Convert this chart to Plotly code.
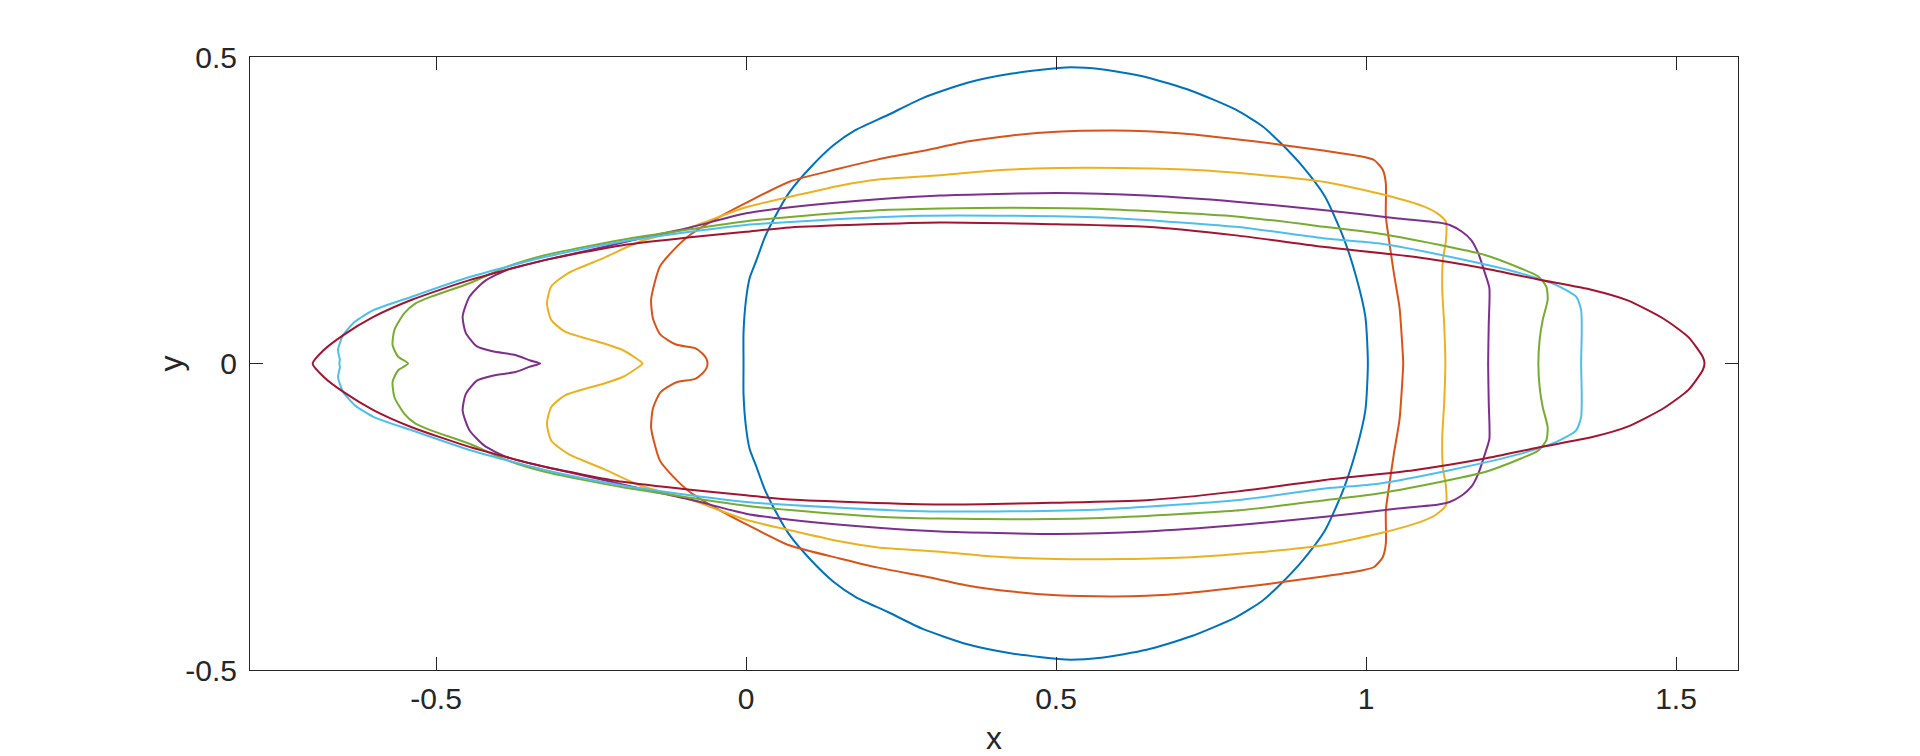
import plotly.graph_objects as go

# upper halves of each closed contour, from the left tip (y=0) round to the right tip (y=0)
blue_x = [-0.004, -0.004, 0.000, 0.006, 0.017, 0.030, 0.044, 0.069, 0.105, 0.141, 0.177, 0.228, 0.285, 0.357,
          0.429, 0.516, 0.573, 0.646, 0.718, 0.790, 0.833, 0.862, 0.898, 0.934, 0.963, 0.984, 0.999, 1.003]
blue_y = [0.000, 0.050, 0.104, 0.140, 0.169, 0.205, 0.234, 0.278, 0.321, 0.356, 0.381, 0.405, 0.433, 0.458,
          0.473, 0.483, 0.480, 0.467, 0.445, 0.414, 0.387, 0.360, 0.321, 0.272, 0.207, 0.142, 0.076, 0.000]

orange_x = [-0.062, -0.064, -0.070, -0.082, -0.113, -0.138, -0.150, -0.153, -0.139, -0.117, -0.090, -0.050,
            0.000, 0.071, 0.151, 0.213, 0.291, 0.357, 0.429, 0.501, 0.588, 0.646, 0.718, 0.790, 0.862, 0.934,
            0.991, 1.013, 1.027, 1.032, 1.032, 1.037, 1.045, 1.054, 1.058, 1.060]
orange_y = [0.000, 0.008, 0.016, 0.025, 0.031, 0.047, 0.073, 0.105, 0.158, 0.185, 0.210, 0.235,
            0.262, 0.297, 0.318, 0.333, 0.348, 0.362, 0.372, 0.378, 0.380, 0.379, 0.374, 0.366, 0.357, 0.347,
            0.338, 0.332, 0.316, 0.294, 0.240, 0.202, 0.147, 0.092, 0.038, 0.000]

yellow_x = [-0.167, -0.181, -0.199, -0.230, -0.292, -0.314, -0.321, -0.314, -0.286, -0.230, -0.171, -0.090,
            0.000, 0.071, 0.151, 0.213, 0.313, 0.400, 0.501, 0.609, 0.718, 0.826, 0.934, 1.031, 1.094, 1.115,
            1.129, 1.129, 1.124, 1.123, 1.126, 1.128]
yellow_y = [0.000, 0.011, 0.022, 0.033, 0.052, 0.071, 0.098, 0.126, 0.148, 0.172, 0.199, 0.222,
            0.255, 0.272, 0.290, 0.300, 0.307, 0.315, 0.319, 0.319, 0.316, 0.308, 0.296, 0.275, 0.256, 0.245,
            0.231, 0.201, 0.169, 0.120, 0.066, 0.000]

purple_x = [-0.332, -0.348, -0.372, -0.409, -0.434, -0.452, -0.457, -0.446, -0.422, -0.385, -0.323, -0.230,
            -0.171, -0.090, 0.000, 0.071, 0.213, 0.313, 0.501, 0.646, 0.790, 0.934, 1.048, 1.117, 1.135, 1.155,
            1.170, 1.181, 1.192, 1.199, 1.198, 1.197]
purple_y = [0.000, 0.005, 0.014, 0.020, 0.028, 0.050, 0.077, 0.109, 0.134, 0.153, 0.169, 0.190,
            0.204, 0.222, 0.245, 0.255, 0.268, 0.274, 0.278, 0.274, 0.264, 0.250, 0.237, 0.230, 0.226, 0.215,
            0.201, 0.180, 0.147, 0.123, 0.065, 0.000]

green_x = [-0.545, -0.561, -0.570, -0.567, -0.551, -0.533, -0.508, -0.446, -0.385, -0.323, -0.199, -0.090,
           0.000, 0.071, 0.213, 0.313, 0.429, 0.573, 0.790, 0.934, 1.020, 1.135, 1.192, 1.250, 1.278, 1.291,
           1.293, 1.285, 1.280, 1.278]
green_y = [0.000, 0.011, 0.030, 0.055, 0.082, 0.098, 0.109, 0.131, 0.158, 0.177, 0.202, 0.219,
           0.232, 0.239, 0.250, 0.253, 0.254, 0.252, 0.240, 0.223, 0.212, 0.190, 0.177, 0.155, 0.142, 0.125,
           0.104, 0.071, 0.038, 0.000]

cyan_x = [-0.656, -0.655, -0.658, -0.650, -0.631, -0.601, -0.539, -0.446, -0.323, -0.199, -0.090, 0.000,
          0.071, 0.285, 0.429, 0.573, 0.790, 0.934, 1.020, 1.135, 1.250, 1.307, 1.339, 1.347, 1.348, 1.347]
cyan_y = [0.000, 0.006, 0.022, 0.046, 0.068, 0.087, 0.109, 0.141, 0.174, 0.199, 0.215, 0.226,
          0.231, 0.241, 0.241, 0.238, 0.223, 0.204, 0.196, 0.174, 0.147, 0.128, 0.109, 0.087, 0.055, 0.000]

red_x = [-0.699, -0.681, -0.650, -0.601, -0.539, -0.446, -0.323, -0.199, -0.090, 0.000, 0.071, 0.313,
         0.501, 0.646, 0.790, 0.934, 1.077, 1.192, 1.278, 1.365, 1.422, 1.480, 1.520, 1.543, 1.546]
red_y = [0.000, 0.022, 0.046, 0.076, 0.104, 0.136, 0.169, 0.193, 0.206, 0.215, 0.222, 0.230,
         0.227, 0.223, 0.209, 0.190, 0.174, 0.155, 0.137, 0.120, 0.103, 0.073, 0.043, 0.011, 0.000]

curves = [
    (blue_x, blue_y, "#0072BD"),
    (orange_x, orange_y, "#D95319"),
    (yellow_x, yellow_y, "#EDB120"),
    (purple_x, purple_y, "#7E2F8E"),
    (green_x, green_y, "#77AC30"),
    (cyan_x, cyan_y, "#4DBEEE"),
    (red_x, red_y, "#A2142F"),
]

x_ticks = [-0.5, 0, 0.5, 1, 1.5]
x_labels = ["-0.5", "0", "0.5", "1", "1.5"]
y_ticks = [-0.5, 0, 0.5]
y_labels = ["-0.5", "0", "0.5"]

fig = go.Figure()

# each contour is symmetric about y=0: close it with the mirrored lower half
for xs, ys, col in curves:
    full_x = list(xs) + list(xs[-2::-1])
    full_y = list(ys) + [-v for v in ys[-2::-1]]
    fig.add_trace(go.Scatter(x=full_x, y=full_y, mode="lines",
                             line=dict(color=col, width=2, shape="spline", smoothing=0.6),
                             showlegend=False))

axis_col = "#262626"
tick_font = dict(family="Liberation Sans, Arial, Helvetica", size=30, color=axis_col)
title_font = dict(family="Liberation Sans, Arial, Helvetica", size=32, color=axis_col)

fig.update_xaxes(range=[-0.8, 1.6], tickvals=x_ticks, ticktext=x_labels, automargin=False,
                 showline=True, linecolor=axis_col, linewidth=1, mirror="ticks",
                 ticks="inside", ticklen=13, tickcolor=axis_col, tickwidth=1,
                 showgrid=False, zeroline=False, tickfont=tick_font, ticklabelstandoff=2,
                 title=dict(text="x", font=title_font, standoff=12))
fig.update_yaxes(range=[-0.5, 0.5], tickvals=y_ticks, ticktext=y_labels, automargin=False,
                 showline=True, linecolor=axis_col, linewidth=1, mirror="ticks",
                 ticks="inside", ticklen=13, tickcolor=axis_col, tickwidth=1,
                 showgrid=False, zeroline=False, tickfont=tick_font, ticklabelstandoff=6)

# y label sits closer to the tick labels than an axis title allows
fig.add_annotation(text="y", xref="paper", yref="paper", x=-0.0531, y=0.5,
                   xanchor="center", yanchor="middle", textangle=-90,
                   showarrow=False, font=title_font)

# the page body adds an 8px offset, so the figure is drawn 8px smaller
fig.update_layout(width=1912, height=748,
                  margin=dict(l=242, r=182, t=49, b=86),
                  plot_bgcolor="white", paper_bgcolor="white")

fig.write_html("out.html")
